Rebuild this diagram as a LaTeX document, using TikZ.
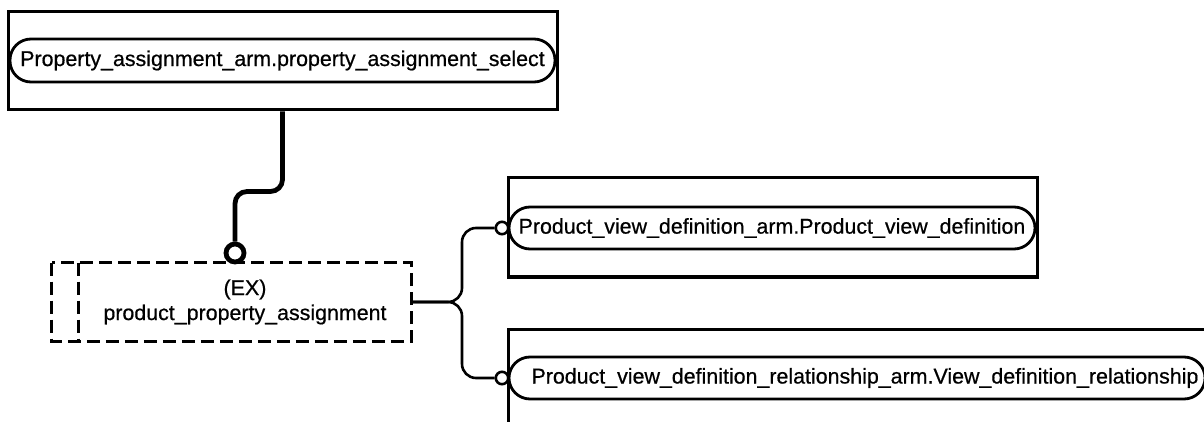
\documentclass[tikz,border=0pt]{standalone}
\usepackage{fontspec}
\setmainfont{Liberation Sans}[BoldFont={Liberation Sans}, BoldFeatures={FakeBold=0.6}]
\begin{document}
\begin{tikzpicture}[x=0.5pt,y=-0.5pt,
  txt/.style={font=\fontsize{10.7}{12.5}\selectfont\bfseries},
  outerbox/.style={draw, line width=1.5pt, inner sep=0pt},
  pill/.style={draw, line width=1.4pt, rounded corners=10.5pt, inner sep=0pt, txt},
  dashline/.style={line width=1.35pt, dash pattern=on 6.5pt off 3pt},
  dbox/.style={inner sep=0pt, align=center, txt},
  thickconn/.style={line width=2.4pt, rounded corners=6pt},
  conn/.style={line width=1.3pt, rounded corners=7pt},
  bigring/.style={circle, draw, line width=2.4pt, minimum size=9pt, inner sep=0pt},
  smallring/.style={circle, draw, line width=1.3pt, minimum size=6.2pt, inner sep=0pt}]
\useasboundingbox (0,0) rectangle (1204,422);
\clip (0,0) rectangle (1204,422);
\fill[white] (0,0) rectangle (1204,422);

% top entity
\node[outerbox, minimum width=274.5pt, minimum height=49pt] (topbox) at (282.5,61) {};
\node[pill, minimum width=272.5pt, minimum height=21.5pt] (toppill) at (282.5,60.5)
  {Property\_assignment\_arm.property\_assignment\_select};

% middle dashed entity
\node[dbox, minimum width=166pt, minimum height=39pt] (main) at (245,302)
  {(EX)\\product\_property\_assignment};
\draw[dashline] ([xshift=-13.5pt]main.north west) rectangle (main.south east);
\draw[dashline] (main.north west) -- (main.south west);

% right entities
\node[outerbox, minimum width=264.5pt, minimum height=49.5pt] (box2) at (772.5,227.5) {};
\node[pill, minimum width=263pt, minimum height=21pt] (pill2) at (772,228)
  {Product\_view\_definition\_arm.Product\_view\_definition};
\node[outerbox, minimum width=353.5pt, minimum height=50.5pt] (box3) at (861.5,379.5) {};
\node[pill, minimum width=348pt, minimum height=21pt] (pill3) at (857,378)
  {\hspace{8pt}Product\_view\_definition\_relationship\_arm.View\_definition\_relationship};

% connectors
\node[bigring] (ring) at (235,253) {};
\draw[thickconn] (topbox.south) -- ++(0,80) -| (ring.north);

\node[smallring] (ring2) at (502,228) {};
\node[smallring] (ring3) at (502,378) {};
\coordinate (fork) at (462,302);
\draw[conn] (main.east) -- (fork) |- (ring2.west);
\draw[conn] (main.east) -- (fork) |- (ring3.west);
\end{tikzpicture}
\end{document}
